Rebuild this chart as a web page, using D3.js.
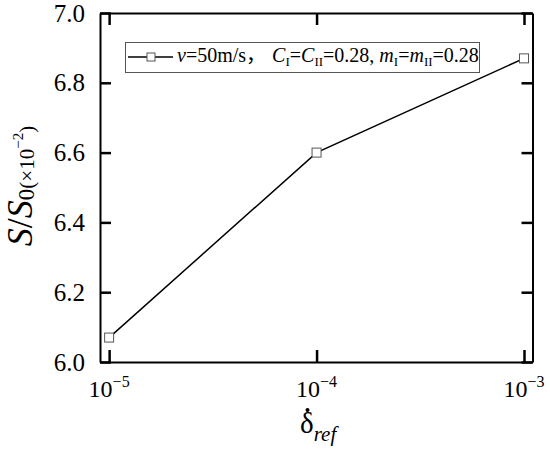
<!DOCTYPE html>
<html>
<head>
<meta charset="utf-8">
<script src="https://cdn.jsdelivr.net/npm/d3@7"></script>
<style>
  body { margin: 0; background: #fff; }
</style>
</head>
<body>
<div id="chart-area"></div>
<script>
// data
var strainRates = [1e-5, 1e-4, 1e-3];
var ratioValues = [6.07, 6.60, 6.87];
var xTickExps = [-5, -4, -3];
var yTicks = [6.0, 6.2, 6.4, 6.6, 6.8, 7.0];

var W = 550, H = 458;
var margin = {left: 100, right: 17.5, top: 13, bottom: 96};

var svg = d3.select("#chart-area").append("svg")
    .attr("width", W)
    .attr("height", H);

var x = d3.scaleLog()
    .domain([Math.pow(10, -5.044), Math.pow(10, -2.959)])
    .range([margin.left, W - margin.right]);

var y = d3.scaleLinear()
    .domain([6, 7])
    .range([H - margin.bottom, margin.top]);

var xTicks = xTickExps.map(function(e) { return Math.pow(10, e); });

// axes, ticks pointing inwards on all four sides
var axBottom = svg.append("g")
    .attr("transform", "translate(0," + y(6) + ")")
    .call(d3.axisBottom(x).tickValues(xTicks).tickSize(-12).tickSizeOuter(0).tickFormat(""));
var axTop = svg.append("g")
    .attr("transform", "translate(0," + y(7) + ")")
    .call(d3.axisTop(x).tickValues(xTicks).tickSize(-12).tickSizeOuter(0).tickFormat(""));
var axLeft = svg.append("g")
    .attr("transform", "translate(" + x.range()[0] + ",0)")
    .call(d3.axisLeft(y).tickValues(yTicks).tickSize(-11).tickSizeOuter(0).tickFormat(""));
var axRight = svg.append("g")
    .attr("transform", "translate(" + x.range()[1] + ",0)")
    .call(d3.axisRight(y).tickValues(yTicks).tickSize(-11).tickSizeOuter(0).tickFormat(""));

[axBottom, axTop, axLeft, axRight].forEach(function(g) {
    g.selectAll("text").remove();
    g.selectAll("path").attr("stroke", "#000").attr("stroke-width", 2);
    g.selectAll("line").attr("stroke", "#000").attr("stroke-width", 2.5);
});

// y tick labels
svg.append("g").selectAll("text").data(yTicks).enter()
    .append("text")
    .attr("x", 85)
    .attr("y", function(d) { return y(d) + 8.5; })
    .attr("text-anchor", "end")
    .style("font-size", "25px")
    .text(function(d) { return d.toFixed(1); });

// x tick labels: 10^n
var xl = svg.append("g").selectAll("text").data(xTickExps).enter()
    .append("text")
    .attr("x", function(d) { return x(Math.pow(10, d)); })
    .attr("y", 397)
    .attr("text-anchor", "middle")
    .style("font-size", "24px");
xl.append("tspan").text("10");
xl.append("tspan").attr("dy", -10).style("font-size", "16px")
    .text(function(d) { return "\u2212" + Math.abs(d); });

// axis titles
var yt = svg.append("text")
    .attr("transform", "translate(32,186) rotate(-90)")
    .attr("text-anchor", "middle")
    .style("font-size", "36px");
yt.append("tspan").style("font-style", "italic").text("S");
yt.append("tspan").text("/");
yt.append("tspan").style("font-style", "italic").text("S");
yt.append("tspan").attr("dy", 2).style("font-size", "23px").text("0");
yt.append("tspan").style("font-size", "21px").text("(\u00d710");
yt.append("tspan").attr("dy", -11).style("font-size", "15px").text("\u22122");
yt.append("tspan").attr("dy", 11).style("font-size", "21px").text(")");

var xt = svg.append("text")
    .attr("x", 300)
    .attr("y", 433)
    .style("font-size", "29px");
xt.append("tspan").text("\u03b4");
xt.append("tspan").attr("dy", 8).style("font-size", "21px").style("font-style", "italic").text("ref");
// dot over delta
svg.append("circle")
    .attr("cx", 307.5).attr("cy", 410).attr("r", 2)
    .attr("fill", "#000");

// series line and markers
var line = d3.line()
    .x(function(d, i) { return x(strainRates[i]); })
    .y(function(d) { return y(d); });

svg.append("path")
    .datum(ratioValues)
    .attr("d", line)
    .attr("fill", "none")
    .attr("stroke", "#000")
    .attr("stroke-width", 1.5);

svg.append("g").selectAll("rect").data(ratioValues).enter()
    .append("rect")
    .attr("x", function(d, i) { return x(strainRates[i]) - 4.5; })
    .attr("y", function(d) { return y(d) - 4.5; })
    .attr("width", 9)
    .attr("height", 9)
    .attr("fill", "#fff")
    .attr("stroke", "#555")
    .attr("stroke-width", 1);

// legend
var lg = svg.append("g");
lg.append("rect")
    .attr("x", 125.5).attr("y", 42.5)
    .attr("width", 354).attr("height", 30)
    .attr("fill", "#fff").attr("stroke", "#555").attr("stroke-width", 1);
lg.append("line")
    .attr("x1", 128).attr("x2", 173).attr("y1", 57).attr("y2", 57)
    .attr("stroke", "#000").attr("stroke-width", 1.5);
lg.append("rect")
    .attr("x", 147).attr("y", 53).attr("width", 8).attr("height", 8)
    .attr("fill", "#fff").attr("stroke", "#555");
var lt = lg.append("text").attr("x", 177).attr("y", 62).style("font-size", "20px");
lt.append("tspan").style("font-style", "italic").text("v");
lt.append("tspan").text("=50m/s");
lt.append("tspan").attr("class", "cjk").text("\uff0c");
lt.append("tspan").attr("dx", 6).style("font-style", "italic").text("C");
lt.append("tspan").attr("dy", 4).style("font-size", "13px").text("I");
lt.append("tspan").attr("dy", -4).text("=");
lt.append("tspan").style("font-style", "italic").text("C");
lt.append("tspan").attr("dy", 4).style("font-size", "13px").text("II");
lt.append("tspan").attr("dy", -4).text("=0.28, ");
lt.append("tspan").style("font-style", "italic").text("m");
lt.append("tspan").attr("dy", 4).style("font-size", "13px").text("I");
lt.append("tspan").attr("dy", -4).text("=");
lt.append("tspan").style("font-style", "italic").text("m");
lt.append("tspan").attr("dy", 4).style("font-size", "13px").text("II");
lt.append("tspan").attr("dy", -4).text("=0.28");

// serif everywhere, set on each text element
svg.selectAll("text").style("font-family", "'Liberation Serif'").attr("fill", "#000");
svg.selectAll("tspan.cjk").style("font-family", "'Noto Sans CJK SC'");
</script>
</body>
</html>
